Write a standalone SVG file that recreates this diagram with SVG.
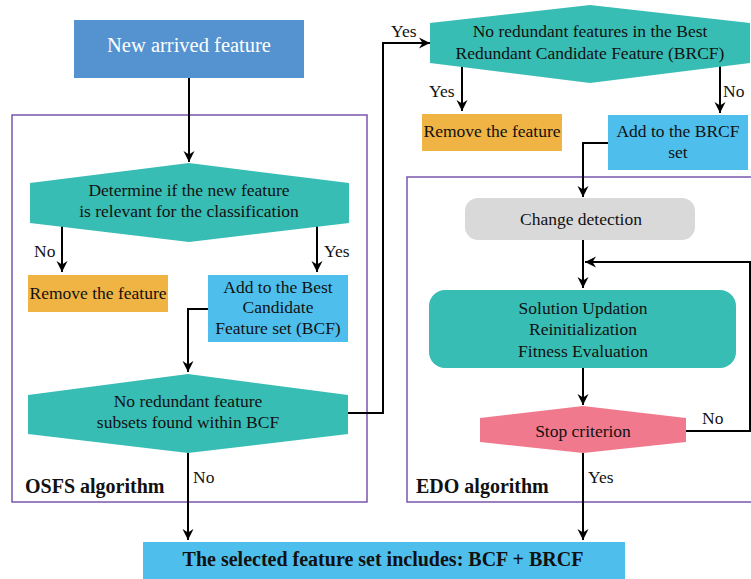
<svg xmlns="http://www.w3.org/2000/svg" width="751" height="579" viewBox="0 0 751 579">
<defs>
<marker id="ah" markerUnits="userSpaceOnUse" markerWidth="12" markerHeight="12" viewBox="0 0 12 12" refX="11" refY="6" orient="auto">
<path d="M0,0.5 L11,6 L0,11.5 L3.5,6 z" fill="#000"/>
</marker>
</defs>
<style>
text{font-family:"Liberation Serif","Times New Roman",serif;fill:#111;text-anchor:middle}
.t{font-size:17.5px}
.w{fill:#fff;font-size:20.5px}
.b{font-weight:bold;font-size:20px;text-anchor:start}
.bb{font-weight:bold;font-size:20px}
.lab{font-size:17.5px;text-anchor:start}
.frame{fill:none;stroke:#7A55AE;stroke-width:1.5}
.teal{fill:#38BDB4}
.orange{fill:#F0B444}
.lblue{fill:#4EBFEC}
.c{fill:none;stroke:#000;stroke-width:2;marker-end:url(#ah)}
</style>
<rect class="frame" x="12" y="115" width="355" height="387"/>
<rect class="frame" x="407" y="177" width="350" height="325"/>
<text class="b" x="25" y="493">OSFS algorithm</text>
<text class="b" x="416" y="493">EDO algorithm</text>
<g id="connectors">
<path class="c" d="M189,78 V162"/>
<path class="c" d="M62,223 V272"/>
<path class="c" d="M317,223 V272"/>
<path class="c" d="M208,309 H188 V372"/>
<path class="c" d="M348,413 H383 V43 H430"/>
<path class="c" d="M188,453 V540"/>
<path class="c" d="M462,63 V111"/>
<path class="c" d="M720,63 V113"/>
<path class="c" d="M608,143 H583 V197"/>
<path class="c" d="M583,240 V288"/>
<path class="c" d="M686,431 H750 V262 H585"/>
<path class="c" d="M583,368 V405"/>
<path class="c" d="M583,453 V540"/>
<text class="lab" x="34" y="257">No</text>
<text class="lab" x="324" y="257">Yes</text>
<text class="lab" x="391" y="37">Yes</text>
<text class="lab" x="193" y="483">No</text>
<text class="lab" x="429" y="97">Yes</text>
<text class="lab" x="723" y="97">No</text>
<text class="lab" x="702" y="424">No</text>
<text class="lab" x="588" y="483">Yes</text>
</g>
<g id="new-feature">
<rect x="74" y="20" width="230" height="58" fill="#5493CF"/>
<text class="w" x="189" y="52">New arrived feature</text>
</g>
<g id="relevance">
<polygon class="teal" points="189,163 349,183 349,223 189,242 30,223 30,183"/>
<text class="t" x="189" y="196">Determine if the new feature</text>
<text class="t" x="189" y="217">is relevant for the classification</text>
</g>
<g id="remove-left">
<rect class="orange" x="28" y="275" width="140" height="37"/>
<text class="t" x="98" y="299">Remove the feature</text>
</g>
<g id="add-bcf">
<rect class="lblue" x="208" y="275" width="140" height="67"/>
<text class="t" x="278" y="293">Add to the Best</text>
<text class="t" x="278" y="313">Candidate</text>
<text class="t" x="278" y="334">Feature set (BCF)</text>
</g>
<g id="redundant-bcf">
<polygon class="teal" points="188,374 348,395 348,434 188,453 28,434 28,395"/>
<text class="t" x="188" y="407">No redundant feature</text>
<text class="t" x="188" y="428">subsets found within BCF</text>
</g>
<g id="redundant-brcf">
<polygon class="teal" points="590,5 750,23 750,63 590,83 430,63 430,23"/>
<text class="t" x="590" y="37">No redundant features in the Best</text>
<text class="t" x="590" y="59">Redundant Candidate Feature (BRCF)</text>
</g>
<g id="remove-right">
<rect class="orange" x="422" y="114" width="140" height="37"/>
<text class="t" x="492" y="137">Remove the feature</text>
</g>
<g id="add-brcf">
<rect class="lblue" x="608" y="115" width="140" height="55"/>
<text class="t" x="678" y="137">Add to the BRCF</text>
<text class="t" x="678" y="158">set</text>
</g>
<g id="change-detection">
<rect x="465" y="198" width="230" height="42" rx="13" fill="#D9D9D9"/>
<text class="t" x="581" y="225">Change detection</text>
</g>
<g id="solution">
<rect class="teal" x="429" y="290" width="307" height="78" rx="16"/>
<text class="t" x="583" y="314">Solution Updation</text>
<text class="t" x="583" y="335">Reinitialization</text>
<text class="t" x="583" y="357">Fitness Evaluation</text>
</g>
<g id="stop">
<polygon points="583,406 686,418 686,442 583,453 480,442 480,418" fill="#F0798D"/>
<text class="t" x="583" y="437">Stop criterion</text>
</g>
<g id="result">
<rect class="lblue" x="143" y="542" width="482" height="40"/>
<text class="bb" x="383" y="566">The selected feature set includes: BCF + BRCF</text>
</g>
</svg>
